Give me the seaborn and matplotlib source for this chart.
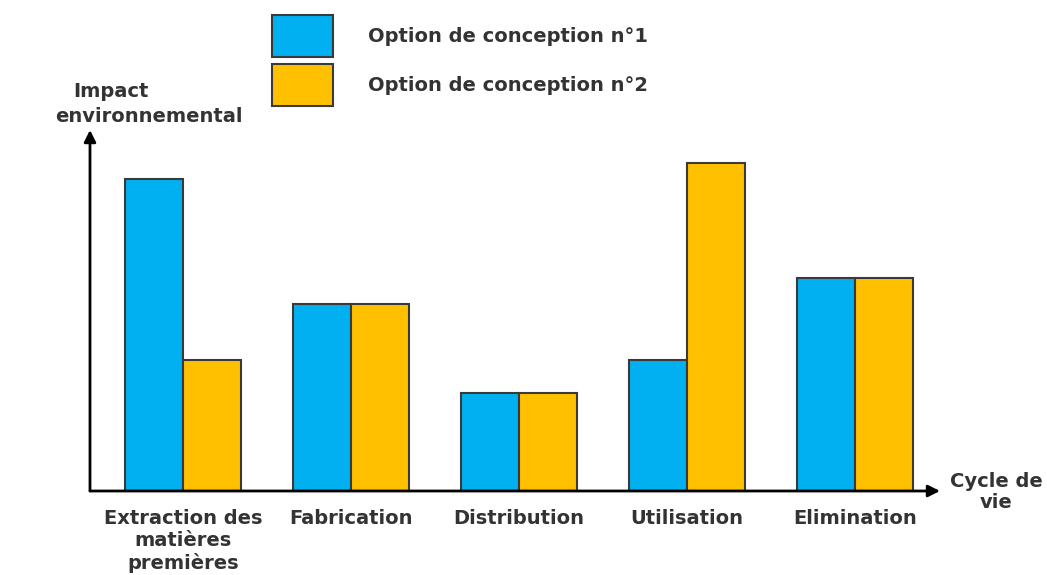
import matplotlib
matplotlib.use("Agg")
import matplotlib.pyplot as plt
import seaborn as sns
import pandas as pd
from matplotlib.patches import Patch

categories = ["Extraction des\nmatières\npremières", "Fabrication", "Distribution", "Utilisation", "Elimination"]
series_names = ["Option de conception n°1", "Option de conception n°2"]
option1 = [9.5, 5.7, 3.0, 4.0, 6.5]
option2 = [4.0, 5.7, 3.0, 10.0, 6.5]
colors = ["#00B0F0", "#FFC000"]

df = pd.DataFrame({
    "cat": categories * 2,
    "serie": [series_names[0]] * len(categories) + [series_names[1]] * len(categories),
    "val": option1 + option2,
})

sns.set_style("white")
FAM = ["DejaVu Sans"]
plt.rcParams["font.family"] = FAM
plt.rcParams["font.weight"] = "bold"
txtc = "#333333"
FS = 14

W, H = 1047, 575
fig = plt.figure(figsize=(W / 100, H / 100), dpi=100)
ax = fig.add_axes([90 / W, (H - 491) / H, (940 - 90) / W, (491 - 130) / H])

sns.barplot(data=df, x="cat", y="val", hue="serie", palette=colors, width=0.69,
            edgecolor="#3a3a3a", linewidth=1.5, saturation=1, ax=ax, legend=False)

ax.set_xlim(-0.554, 4.506)
ax.set_ylim(0, 11.0)
for s in ax.spines.values():
    s.set_visible(False)
ax.set_yticks([])
ax.set_xlabel("")
ax.set_ylabel("")
ax.tick_params(axis="x", length=0, pad=13)
ax.set_xticks(range(len(categories)))
ax.set_xticklabels(categories, fontsize=FS, fontweight="bold", color=txtc, linespacing=1.2)

# axes with arrows
ax.annotate("", xy=(0, 1), xytext=(0, 0), xycoords="axes fraction",
            arrowprops=dict(arrowstyle="-|>,head_length=0.7,head_width=0.35", color="black", lw=2, shrinkA=0, shrinkB=0))
ax.annotate("", xy=(1, 0), xytext=(0, 0), xycoords="axes fraction",
            arrowprops=dict(arrowstyle="-|>,head_length=0.7,head_width=0.35", color="black", lw=2, shrinkA=0, shrinkB=0))

fig.text(73 / W, 1 - 91 / H, "Impact", fontsize=FS, fontweight="bold", color=txtc, ha="left", va="center")
fig.text(55 / W, 1 - 116 / H, "environnemental", fontsize=FS, fontweight="bold", color=txtc, ha="left", va="center")
fig.text(996 / W, 1 - 492 / H, "Cycle de\nvie", fontsize=FS, fontweight="bold", color=txtc, ha="center", va="center", linespacing=1.15)

handles = [Patch(facecolor=c, edgecolor="#3a3a3a", linewidth=1.5) for c in colors]
fs_px = FS * 100 / 72
leg = fig.legend(handles, series_names, loc="upper left", bbox_to_anchor=(272 / W, 1 - 15 / H),
                 frameon=False, borderpad=0, borderaxespad=0, handlelength=61 / fs_px,
                 handleheight=(42 - 0.245 * fs_px) / (0.65 * fs_px),
                 labelspacing=7 / fs_px, handletextpad=35 / fs_px,
                 prop={"family": FAM, "weight": "bold", "size": FS})
for t in leg.get_texts():
    t.set_color(txtc)

fig.savefig("out.png", dpi=100)
